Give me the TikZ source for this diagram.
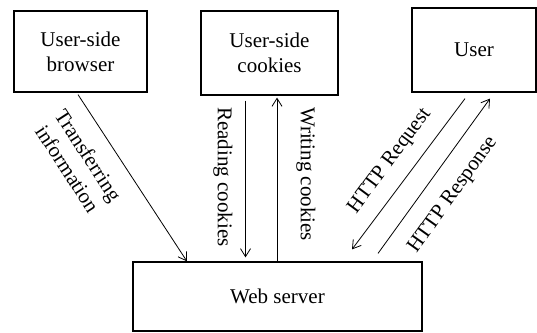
\documentclass[tikz,border=0pt]{standalone}
\usepackage{fontspec}
\setmainfont{Liberation Serif}
\usetikzlibrary{arrows.meta,positioning}
\tikzset{
  >={Straight Barb[length=8pt,width=10pt]},
  box/.style={draw,line width=1.2pt,align=center,inner sep=0pt,
    font=\fontsize{21}{25}\selectfont},
  flow/.style={->,line width=0.8pt},
  tag/.style={font=\fontsize{21}{25}\selectfont,align=center,inner sep=0pt},
}

\begin{document}
\begin{tikzpicture}[x=1pt,y=-1pt]
  \useasboundingbox (0,0) rectangle (537,332);
  % the four parties
  \node[box,minimum width=133pt,minimum height=81pt] (browser) at (80.5,51.5) {User-side\\browser};
  \node[box,minimum width=137pt,minimum height=84pt] (cookies) at (269.5,53) {User-side\\cookies};
  \node[box,minimum width=124pt,minimum height=84pt] (user) at (474,50) {User};
  \node[box,minimum width=289pt,minimum height=69pt] (server) at (277.5,296.5) {Web server};
  % exchanges with the server
  \draw[flow] ([xshift=-2.5pt,yshift=-2pt]browser.south) -- ([xshift=-90.5pt]server.north);
  \draw[flow] ([xshift=-24pt,yshift=-5pt]cookies.south) -- ([xshift=-32pt,yshift=4pt]server.north);
  \draw[flow] ([xshift=-0.5pt]server.north) -- ([xshift=7.5pt,yshift=-2pt]cookies.south);
  \draw[flow] ([xshift=-9pt,yshift=-6pt]user.south) -- ([xshift=74.5pt,yshift=12pt]server.north);
  \draw[flow] ([xshift=100.5pt,yshift=8pt]server.north) -- ([xshift=16pt,yshift=-6pt]user.south);
  % labels along the arrows
  \node[tag,rotate=-57] (transfer) at (78,162) {Transferring\\information};
  \node[tag,rotate=-90] (reading) at (223,177) {Reading cookies};
  \node[tag,rotate=-90] (writing) at (306,174) {Writing cookies};
  \node[tag,rotate=53.5] (request) at (390,161) {HTTP Request};
  \node[tag,rotate=54.5] (response) at (453,195) {HTTP Response};
\end{tikzpicture}
\end{document}
